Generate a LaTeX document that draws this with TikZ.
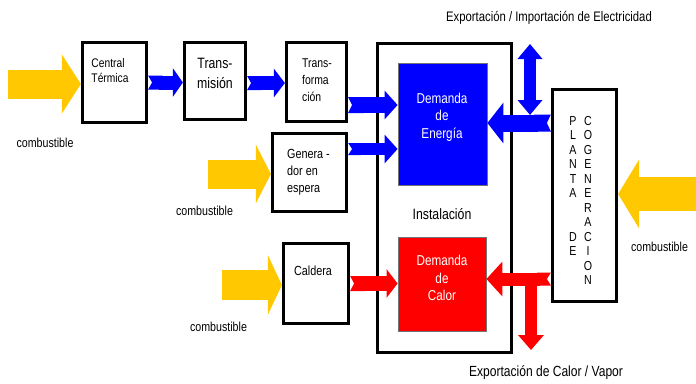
\documentclass[tikz,border=0pt]{standalone}
\usepackage{fontspec}
\setmainfont{Liberation Sans}[FakeStretch=0.82]
\usetikzlibrary{arrows.meta,calc}

\definecolor{amarillo}{RGB}{255,200,0}
\definecolor{azul}{RGB}{0,0,255}
\definecolor{rojo}{RGB}{255,0,0}

\tikzset{
  caja/.style={draw, line width=3.2pt, fill=white, inner sep=0pt},
  demanda/.style={draw=black!55, line width=.8pt, inner sep=0pt},
  rotulo/.style={inner sep=0pt, align=left},
  letra/.style={inner sep=0pt, font=\fontsize{13}{14}\selectfont},
  flecha/.style n args={4}{draw=#1, line width=#2,
    arrows={-Triangle[width=#3,length=#4]}},
  flechan/.style n args={4}{draw=#1, line width=#2,
    arrows={Triangle Cap[reversed,length=4pt]-Triangle[width=#3,length=#4]}},
}

\begin{document}
\begin{tikzpicture}[x=1pt,y=-1pt]
  \useasboundingbox (0,0) rectangle (696,383);

  % cajas
  \node[caja, minimum width=134pt, minimum height=309pt] (inst) at (444.5,198) {};
  \node[demanda, fill=azul, minimum width=89pt, minimum height=122pt] (de) at (442.5,124) {};
  \node[demanda, fill=rojo, minimum width=88pt, minimum height=94pt] (dc) at (442,284) {};
  \node[caja, minimum width=64pt, minimum height=80pt] (ct) at (114.5,82.5) {};
  \node[caja, minimum width=61pt, minimum height=77pt] (tm) at (215,81) {};
  \node[caja, minimum width=60pt, minimum height=79pt] (tf) at (316.5,82) {};
  \node[caja, minimum width=74pt, minimum height=78pt] (ge) at (309.5,172.5) {};
  \node[caja, minimum width=65pt, minimum height=80pt] (ca) at (316,283.5) {};
  \node[caja, minimum width=64pt, minimum height=212pt] (pl) at (584.5,195.5) {};

  % combustible
  \coordinate (y1) at (8,84);
  \coordinate (y2) at (208,174);
  \coordinate (y3) at (222,285);
  \coordinate (y4) at (696,194);
  \draw[flecha={amarillo}{29pt}{58pt}{19pt}] (y1) -- (y1 -| ct.west);
  \draw[flecha={amarillo}{29pt}{58pt}{15pt}] (y2) -- (y2 -| ge.west);
  \draw[flecha={amarillo}{30pt}{59pt}{14pt}] (y3) -- (y3 -| ca.west);
  \draw[flecha={amarillo}{34pt}{68pt}{21pt}] (y4) -- (y4 -| pl.east);

  % electricidad
  \coordinate (t2) at ([yshift=-2pt]tm.east);
  \coordinate (t3) at ([yshift=-23pt]tf.east);
  \coordinate (g1) at ([yshift=23.5pt]ge.east);
  \coordinate (p1) at ([yshift=72.5pt]pl.west);
  \draw[flechan={azul}{14pt}{28pt}{10pt}] (ct.east) -- (ct.east -| tm.west);
  \draw[flechan={azul}{14pt}{28pt}{11pt}] (t2) -- (t2 -| tf.west);
  \draw[flechan={azul}{16pt}{28pt}{13pt}] (t3) -- (t3 -| de.west);
  \draw[flechan={azul}{12pt}{28pt}{13pt}] (g1) -- (g1 -| de.west);
  \draw[flechan={azul}{17pt}{40pt}{16pt}] (p1) -- (p1 -| de.east);
  \coordinate (e1) at (530,44);
  \coordinate (e2) at (530,115);
  \draw[azul, line width=12pt,
    arrows={Triangle[width=24pt,length=15pt]-Triangle[width=24pt,length=15pt]}] (e1) -- (e2);

  % calor
  \coordinate (p2) at ([yshift=-83.5pt]pl.west);
  \draw[flechan={rojo}{15pt}{28pt}{11pt}] (ca.east) -- (ca.east -| dc.west);
  \draw[flechan={rojo}{13pt}{34pt}{16pt}] (p2) -- (p2 -| dc.east);
  \coordinate (v1) at (531,279);
  \coordinate (v2) at (531,350);
  \draw[flecha={rojo}{12pt}{25pt}{15pt}] (v1) -- (v2);

  % textos
  \node[rotulo, font=\fontsize{12.5}{15}\selectfont] (ct-t) at (110,70.5) {Central\\Térmica};
  \node[rotulo, align=center, font=\fontsize{15}{20}\selectfont] (tm-t) at (215,73) {Trans-\\misión};
  \node[rotulo, font=\fontsize{12.7}{17}\selectfont] (tf-t) at (317,80) {Trans-\\forma\\ción};
  \node[rotulo, font=\fontsize{13.2}{17}\selectfont] (ge-t) at (308.5,172) {Genera -\\dor en\\espera};
  \node[rotulo, font=\fontsize{13.2}{16}\selectfont] (ca-t) at (313,271) {Caldera};
  \node[rotulo, align=center, text=white, font=\fontsize{14.3}{17.5}\selectfont] (de-t) at (442,117) {Demanda\\de\\Energía};
  \node[rotulo, align=center, text=white, font=\fontsize{14.3}{17.5}\selectfont] (dc-t) at (442,278) {Demanda\\de\\Calor};
  \node[rotulo, font=\fontsize{15}{18}\selectfont] (inst-t) at (442,214) {Instalación};
  \node[rotulo, font=\fontsize{13.8}{16}\selectfont] (exp-e) at (549,18) {Exportación / Importación de Electricidad};
  \node[rotulo, font=\fontsize{14.7}{17}\selectfont] (exp-c) at (546,373) {Exportación de Calor / Vapor};
  \node[rotulo, font=\fontsize{13}{15}\selectfont] (c-1) at (45,143) {combustible};
  \node[rotulo, font=\fontsize{13}{15}\selectfont] (c-2) at (204.5,211) {combustible};
  \node[rotulo, font=\fontsize{13}{15}\selectfont] (c-3) at (218.5,327) {combustible};
  \node[rotulo, font=\fontsize{13}{15}\selectfont] (c-4) at (659.5,247) {combustible};

  % planta de cogeneracion
  \foreach \l [count=\i] in {P,L,A,N,T,A}
    \node[letra] (pl-a\i) at (573,{121+14.5*(\i-1)}) {\l};
  \foreach \l [count=\i from 9] in {D,E}
    \node[letra] (pl-b\i) at (573,{121+14.5*(\i-1)}) {\l};
  \foreach \l [count=\i] in {C,O,G,E,N,E,R,A,C,I,O,N}
    \node[letra] (pl-c\i) at (588,{121+14.5*(\i-1)}) {\l};
\end{tikzpicture}
\end{document}
